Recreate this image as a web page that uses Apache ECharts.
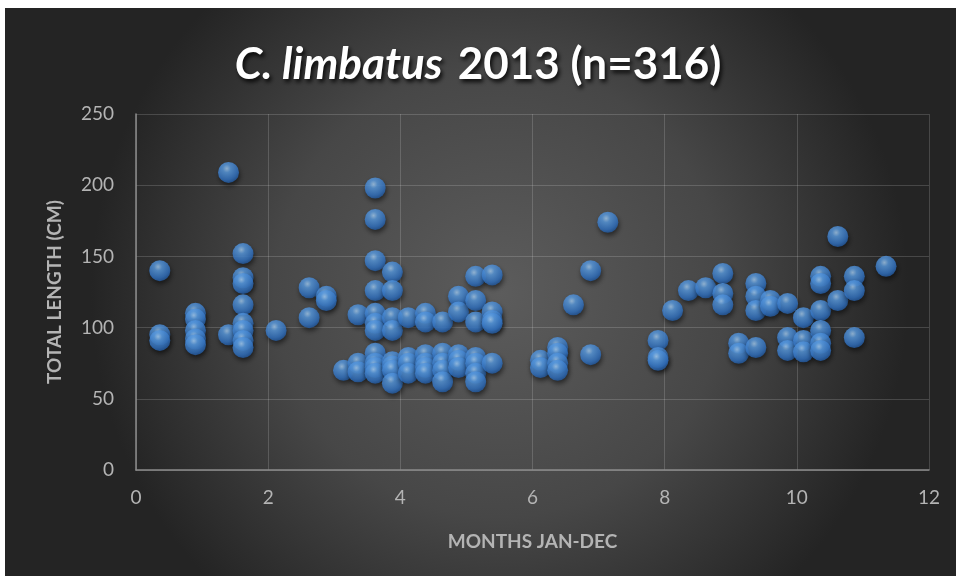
<!DOCTYPE html>
<html>
<head>
<meta charset="utf-8">
<script src="https://cdn.jsdelivr.net/npm/echarts@6/dist/echarts.min.js"></script>
<style>
html,body{margin:0;padding:0;background:#fff;}
#c{width:956px;height:576px;}
</style>
</head>
<body>
<div id="c"></div>
<script>
// Month (x) values of each observation
var months = [
  0.36,0.36,0.36,
  0.9,0.9,0.9,0.9,0.9,
  1.4,1.4,
  1.62,1.62,1.62,1.62,1.62,1.62,1.62,1.62,
  2.12,
  2.62,2.62,
  2.88,2.88,
  3.14,
  3.36,3.36,3.36,
  3.62,3.62,3.62,3.62,3.62,3.62,3.62,3.62,3.62,3.62,3.62,
  3.88,3.88,3.88,3.88,3.88,3.88,3.88,3.88,
  4.12,4.12,4.12,4.12,
  4.38,4.38,4.38,4.38,4.38,4.38,
  4.64,4.64,4.64,4.64,4.64,
  4.88,4.88,4.88,4.88,4.88,
  5.14,5.14,5.14,5.14,5.14,5.14,5.14,
  5.39,5.39,5.39,5.39,5.39,
  6.12,6.12,
  6.38,6.38,6.38,6.38,
  6.62,
  6.88,6.88,
  7.14,
  7.9,7.9,7.9,
  8.12,
  8.36,
  8.62,
  8.88,8.88,8.88,
  9.12,9.12,
  9.38,9.38,9.38,9.38,
  9.6,9.6,
  9.86,9.86,9.86,
  10.1,10.1,10.1,
  10.36,10.36,10.36,10.36,10.36,10.36,
  10.62,10.62,
  10.87,10.87,10.87,
  11.35
];
// Total length (cm) of each observation
var lengths = [
  140,95,91,
  110,106,98,92,88,
  209,95,
  152,135,131,116,103,98,91,86,
  98,
  128,107,
  122,119,
  70,
  109,75,69,
  198,176,147,126,110,103,98,82,75,72,68,
  139,126,107,98,76,73,70,61,
  107,79,75,68,
  110,104,81,75,72,68,
  104,82,75,70,62,
  122,111,81,77,72,
  136,119,104,79,75,68,62,
  137,111,105,103,75,
  77,72,
  86,82,75,70,
  116,
  140,81,
  174,
  91,79,77,
  112,
  126,
  128,
  138,124,116,
  89,82,
  131,122,112,86,
  119,115,
  117,93,84,
  107,91,83,
  136,131,112,98,89,84,
  164,119,
  136,126,93,
  143
];
var xTicks = [0,2,4,6,8,10,12];
var yTicks = [0,50,100,150,200,250];

var points = months.map(function(m,i){return [m, lengths[i]];});

var chart = echarts.init(document.getElementById('c'), null, {renderer:'canvas'});
var labelColor = '#b4b4b4';
var shadow = {textShadowColor: 'rgba(0,0,0,0.85)', textShadowBlur: 4, textShadowOffsetX: 2, textShadowOffsetY: 3};
chart.setOption({
  backgroundColor: '#ffffff',
  animation: false,
  graphic: [{
    type: 'rect', z: -10, silent: true,
    shape: {x: 5, y: 8, width: 951, height: 568},
    style: {
      fill: {
        type: 'radial', x: 0.52, y: 0.5, r: 0.72,
        colorStops: [{offset: 0, color: '#5c5c5c'}, {offset: 0.55, color: '#474747'}, {offset: 1, color: '#242424'}]
      }
    }
  }],
  title: {
    left: 'center',
    top: 38,
    text: '{i|C. limbatus}   {b|2013 (n=316)}',
    textStyle: {
      rich: {
        i: Object.assign({fontFamily: 'Lato', fontStyle: 'italic', fontWeight: 'bold', fontSize: 44, color: '#ffffff'}, shadow),
        b: Object.assign({fontFamily: 'Lato', fontWeight: 'bold', fontSize: 44, color: '#ffffff'}, shadow)
      }
    }
  },
  grid: {left: 136, right: 27, top: 114, bottom: 106},
  xAxis: {
    type: 'value', min: xTicks[0], max: xTicks[xTicks.length-1], interval: 2,
    name: 'MONTHS JAN-DEC', nameLocation: 'middle', nameGap: 62,
    nameTextStyle: {color: labelColor, fontFamily: 'Lato', fontWeight: 'bold', fontSize: 19},
    axisLine: {show: true, lineStyle: {color: '#8c8c8c', width: 1.5}},
    axisTick: {show: false},
    axisLabel: {color: labelColor, fontFamily: 'Lato', fontSize: 19, margin: 18},
    splitLine: {show: true, lineStyle: {color: 'rgba(255,255,255,0.16)', width: 1}}
  },
  yAxis: {
    type: 'value', min: yTicks[0], max: yTicks[yTicks.length-1], interval: 50,
    name: 'TOTAL LENGTH (CM)', nameLocation: 'middle', nameGap: 72, nameRotate: 90,
    nameTextStyle: {color: labelColor, fontFamily: 'Lato', fontWeight: 'bold', fontSize: 19},
    axisLine: {show: true, lineStyle: {color: '#8c8c8c', width: 1.5}},
    axisTick: {show: false},
    axisLabel: {color: labelColor, fontFamily: 'Lato', fontSize: 19, margin: 22},
    splitLine: {show: true, lineStyle: {color: 'rgba(255,255,255,0.16)', width: 1}}
  },
  series: [{
    type: 'scatter',
    data: points,
    symbol: 'circle',
    symbolSize: 21,
    itemStyle: {
      color: {
        type: 'radial', x: 0.42, y: 0.32, r: 0.75,
        colorStops: [
          {offset: 0, color: '#a9d2f8'},
          {offset: 0.25, color: '#5c9fe6'},
          {offset: 0.7, color: '#3577c8'},
          {offset: 1, color: '#1c4f92'}
        ]
      },
      shadowColor: 'rgba(0,0,0,0.65)',
      shadowBlur: 5,
      shadowOffsetX: 1,
      shadowOffsetY: 3
    }
  }]
});
</script>
</body>
</html>
